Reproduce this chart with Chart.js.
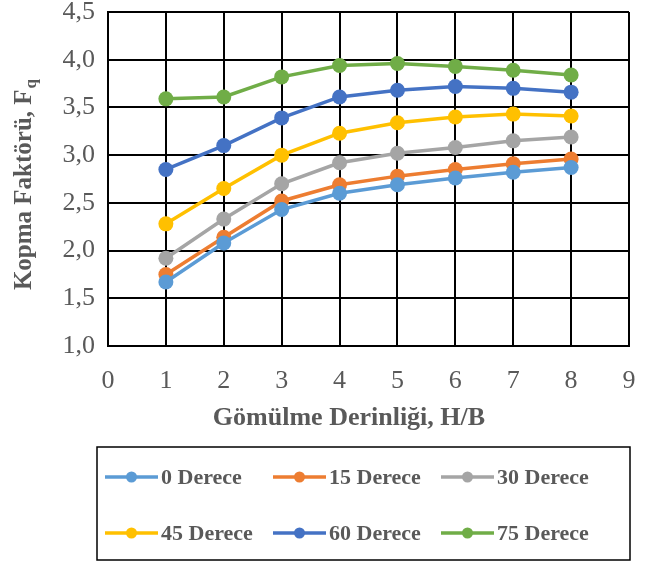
<!DOCTYPE html>
<html>
<head>
<meta charset="utf-8">
<script src="https://cdn.jsdelivr.net/npm/chart.js@4.4.1/dist/chart.umd.min.js"></script>
<style>
  html, body { margin: 0; padding: 0; background: #fff; }
  #wrap { width: 662px; height: 565px; }
</style>
</head>
<body>
<div id="wrap"><canvas id="chart"></canvas></div>
<script>
// H/B values
const depths = [1, 2, 3, 4, 5, 6, 7, 8];
const seriesNames = ['0 Derece', '15 Derece', '30 Derece', '45 Derece', '60 Derece', '75 Derece'];
const deg0  = [1.67, 2.08, 2.43, 2.60, 2.69, 2.76, 2.82, 2.87];
const deg15 = [1.75, 2.14, 2.52, 2.69, 2.78, 2.85, 2.91, 2.96];
const deg30 = [1.92, 2.33, 2.70, 2.92, 3.02, 3.08, 3.15, 3.19];
const deg45 = [2.28, 2.65, 3.00, 3.23, 3.34, 3.40, 3.43, 3.41];
const deg60 = [2.85, 3.10, 3.39, 3.61, 3.68, 3.72, 3.70, 3.66];
const deg75 = [3.59, 3.61, 3.82, 3.94, 3.96, 3.93, 3.89, 3.84];
const colors = ['#5B9BD5', '#ED7D31', '#A5A5A5', '#FFC000', '#4472C4', '#70AD47'];

const serif = "'Liberation Serif', 'Times New Roman', serif";
const textColor = '#595959';

const allSeries = [deg0, deg15, deg30, deg45, deg60, deg75];
const datasets = allSeries.map((vals, i) => ({
  label: seriesNames[i],
  data: depths.map((x, j) => ({ x: x, y: vals[j] })),
  borderColor: colors[i],
  backgroundColor: colors[i],
  borderWidth: 3.5,
  pointRadius: 7.5,
  pointHoverRadius: 7.5,
  pointBorderWidth: 0,
  tension: 0
}));

// axis titles (y one has subscript q) + boxed legend in 3 columns
const extras = {
  id: 'extras',
  afterDraw(chart) {
    const ctx = chart.ctx;
    ctx.save();
    ctx.fillStyle = textColor;
    ctx.textBaseline = 'middle';
    ctx.textAlign = 'center';
    ctx.font = 'bold 26px ' + serif;
    ctx.fillText('Gömülme Derinliği, H/B', 349, 418);

    ctx.translate(25, 185);
    ctx.rotate(-Math.PI / 2);
    ctx.textAlign = 'left';
    const main = 'Kopma Faktörü, F';
    ctx.font = 'bold 25px ' + serif;
    const w = ctx.measureText(main).width;
    ctx.font = 'bold 17px ' + serif;
    const wq = ctx.measureText('q').width;
    const start = -(w + wq) / 2;
    ctx.font = 'bold 25px ' + serif;
    ctx.fillText(main, start, 0);
    ctx.font = 'bold 17px ' + serif;
    ctx.fillText('q', start + w + 1, 7);
    ctx.restore();

    // legend box
    ctx.save();
    ctx.strokeStyle = '#000';
    ctx.lineWidth = 1.5;
    ctx.strokeRect(97, 447, 533, 113);
    const colX = [105, 273, 441];
    const rowY = [477, 533];
    chart.data.datasets.forEach((ds, i) => {
      const x = colX[i % 3];
      const y = rowY[Math.floor(i / 3)];
      ctx.strokeStyle = ds.borderColor;
      ctx.lineWidth = 3.5;
      ctx.beginPath();
      ctx.moveTo(x, y);
      ctx.lineTo(x + 53, y);
      ctx.stroke();
      ctx.fillStyle = ds.borderColor;
      ctx.beginPath();
      ctx.arc(x + 26.5, y, 5.5, 0, Math.PI * 2);
      ctx.fill();
      ctx.fillStyle = textColor;
      ctx.font = 'bold 22px ' + serif;
      ctx.textBaseline = 'middle';
      ctx.textAlign = 'left';
      ctx.fillText(ds.label, x + 56, y + 1);
    });
    ctx.restore();
  }
};

new Chart(document.getElementById('chart'), {
  type: 'line',
  data: { datasets: datasets },
  plugins: [extras],
  options: {
    responsive: true,
    maintainAspectRatio: false,
    animation: false,
    layout: { padding: { top: 12, right: 33, bottom: 119, left: 0 } },
    plugins: {
      legend: { display: false },
      tooltip: { enabled: false }
    },
    scales: {
      x: {
        type: 'linear',
        min: 0,
        max: 9,
        ticks: {
          stepSize: 1,
          color: textColor,
          padding: 20,
          font: { family: serif, size: 26 }
        },
        grid: { color: '#000', lineWidth: 2, drawTicks: false },
        border: { color: '#000', width: 2 },
        afterFit(scale) {
          scale.height = 100;
          scale.paddingLeft = 0;
          scale.paddingRight = 0;
        }
      },
      y: {
        min: 1,
        max: 4.5,
        ticks: {
          stepSize: 0.5,
          color: textColor,
          padding: 13,
          font: { family: serif, size: 26 },
          callback: v => v.toFixed(1).replace('.', ',')
        },
        grid: { color: '#000', lineWidth: 2, drawTicks: false },
        border: { color: '#000', width: 2 },
        afterFit(scale) {
          scale.width = 108;
          scale.paddingTop = 0;
          scale.paddingBottom = 0;
        }
      }
    }
  }
});
</script>
</body>
</html>
